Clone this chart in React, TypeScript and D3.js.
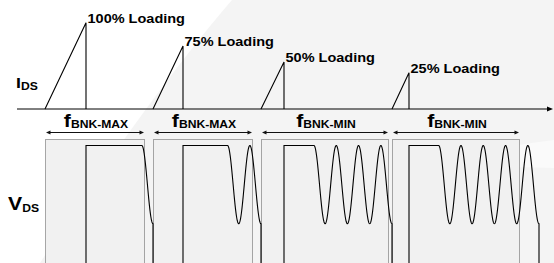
import React, { useRef, useEffect } from "react";
import * as d3 from "d3";

// time in arbitrary units from the I_DS axis origin
const loadingLabels = ["100% Loading", "75% Loading", "50% Loading", "25% Loading"];
const switchOn = [28, 136, 244, 375, 522]; // MOSFET turn-on (ramp start, V_DS falls to 0)
const switchOff = [69, 166, 267, 392]; // MOSFET turn-off (current peak, V_DS rises)
const peakCurrent = [1.0, 0.73, 0.545, 0.42];
const valleyCount = [1, 2, 4, 5];
const bankLabels = ["BNK-MAX", "BNK-MAX", "BNK-MIN", "BNK-MIN"];
const bankPeriod = [100, 100, 128, 128];
const ringPeriod = 22.3;
const vIn = 1.5;
const vRing = 0.5;

const W = 554;
const H = 263;
const FONT = "'Liberation Sans', Arial, Helvetica, sans-serif";
const SX = 1.18; // horizontal stretch of the lettering

const App: React.FC = () => {
  const svgRef = useRef<SVGSVGElement>(null);

  useEffect(() => {
    if (!svgRef.current) return;
    const svg = d3.select(svgRef.current);
    svg.selectAll("*").remove();

    const x = d3.scaleLinear().domain([0, 536]).range([17, 553]);
    const yI = d3.scaleLinear().domain([0, 1]).range([109, 22.7]);
    const yV = d3.scaleLinear().domain([0, 2]).range([302, 145.5]);

    // background
    svg.append("rect").attr("width", W).attr("height", H).attr("fill", "#f4f4f4");
    svg
      .append("path")
      .attr("d", "M0,0 L232,0 Q150,95 40,263 L0,263 Z")
      .attr("fill", "#ffffff");
    svg
      .append("path")
      .attr("d", "M554,140 Q470,150 400,175 Q480,165 554,168 Z")
      .attr("fill", "#fafafa");

    // switching period boxes
    bankPeriod.forEach((p, i) => {
      const x0 = x(switchOn[i]);
      const x1 = x(switchOn[i] + p);
      svg
        .append("rect")
        .attr("x", x0 + 0.5)
        .attr("y", 139.5)
        .attr("width", x1 - x0 - 1)
        .attr("height", 140)
        .attr("fill", "#f1f1f1")
        .attr("stroke", "#555")
        .attr("stroke-width", 1)
        .attr("stroke-dasharray", "1,1");

      const ay = 132.5;
      const a0 = x0 + 1;
      const a1 = x1 - 1;
      svg
        .append("line")
        .attr("x1", a0 + 3)
        .attr("x2", a1 - 3)
        .attr("y1", ay)
        .attr("y2", ay)
        .attr("stroke", "#111")
        .attr("stroke-width", 1);
      svg
        .append("path")
        .attr("d", `M${a0},${ay} l4.5,-2 v4 Z M${a1},${ay} l-4.5,-2 v4 Z`)
        .attr("fill", "#111");

      const cx = (x0 + x1) / 2 + 1;
      const g = svg
        .append("g")
        .attr("transform", `translate(${cx},0) scale(${SX},1)`);
      const t = g
        .append("text")
        .attr("y", 127)
        .attr("text-anchor", "middle")
        .attr("font-family", FONT)
        .attr("font-weight", "bold")
        .attr("fill", "#000");
      t.append("tspan").attr("font-size", 18).text("f");
      t.append("tspan")
        .attr("font-size", 10.3)
        .attr("dy", 1.5)
        .text(bankLabels[i]);
    });

    // V_DS waveform
    const line = d3
      .line<[number, number]>()
      .x((d) => x(d[0]))
      .y((d) => yV(d[1]));
    switchOff.forEach((off, i) => {
      const next = switchOn[i + 1];
      const ringStart = next - ringPeriod / 2 - (valleyCount[i] - 1) * ringPeriod;
      const pts: [number, number][] = [
        [off, 0],
        [off, vIn + vRing],
        [ringStart, vIn + vRing],
      ];
      d3.range(ringStart, next, 0.25).forEach((t) => {
        pts.push([t, vIn + vRing * Math.cos((2 * Math.PI * (t - ringStart)) / ringPeriod)]);
      });
      pts.push([next, vIn - vRing]);
      pts.push([next, 0]);
      svg
        .append("path")
        .attr("d", line(pts))
        .attr("fill", "none")
        .attr("stroke", "#000")
        .attr("stroke-width", 1.1);
    });

    // I_DS axis
    svg
      .append("line")
      .attr("x1", x(0))
      .attr("x2", x(536) - 4)
      .attr("y1", yI(0))
      .attr("y2", yI(0))
      .attr("stroke", "#000")
      .attr("stroke-width", 1);
    svg
      .append("path")
      .attr("d", `M${x(536)},${yI(0)} l-6,-2.5 v5 Z`)
      .attr("fill", "#000");

    // I_DS ramps
    switchOff.forEach((off, i) => {
      const pts: [number, number][] = [
        [switchOn[i], 0],
        [off, peakCurrent[i]],
        [off, 0],
      ];
      svg
        .append("path")
        .attr(
          "d",
          d3
            .line<[number, number]>()
            .x((d) => x(d[0]))
            .y((d) => yI(d[1]))(pts)
        )
        .attr("fill", "none")
        .attr("stroke", "#000")
        .attr("stroke-width", 1.1);

      svg
        .append("text")
        .attr(
          "transform",
          `translate(${x(off) + 1.5},${yI(peakCurrent[i]) + 0.3}) scale(${SX},1)`
        )
        .attr("font-family", FONT)
        .attr("font-weight", "bold")
        .attr("font-size", 12.3)
        .attr("fill", "#000")
        .text(loadingLabels[i]);
    });

    // axis titles
    const title = (tx: number, ty: number, main: string, size: number, dy: number) => {
      const t = svg
        .append("text")
        .attr("transform", `translate(${tx},${ty}) scale(${SX},1)`)
        .attr("font-family", FONT)
        .attr("font-weight", "bold")
        .attr("fill", "#000");
      t.append("tspan").attr("font-size", size).text(main);
      t.append("tspan").attr("font-size", 10.3).attr("dy", dy).text("DS");
    };
    title(16, 87.5, "I", 15, 2);
    title(8, 210, "V", 18, 2.3);
  }, []);

  return (
    <svg
      ref={svgRef}
      width={W}
      height={H}
      style={{ position: "absolute", left: 0, top: 0, display: "block" }}
    ></svg>
  );
};

export default App;
